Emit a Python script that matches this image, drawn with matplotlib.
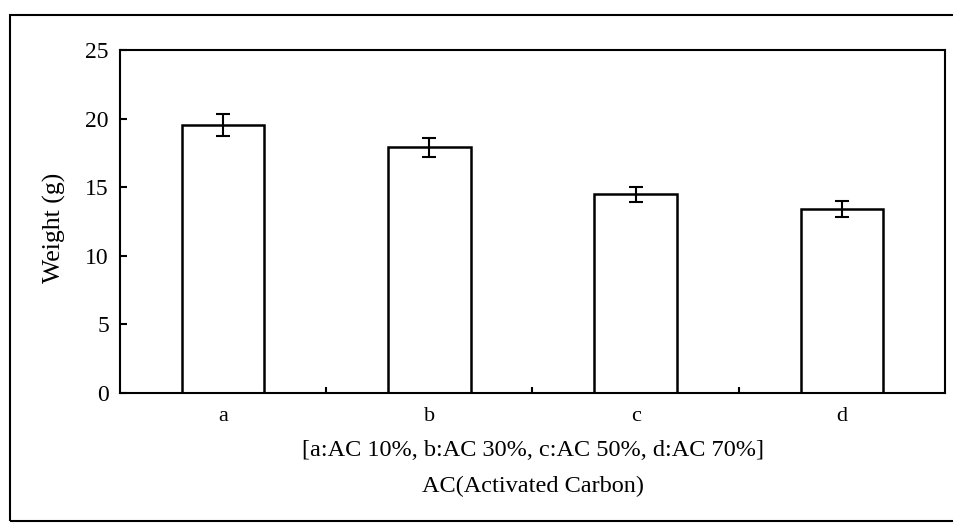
import matplotlib
matplotlib.use('Agg')
import matplotlib.pyplot as plt
from matplotlib.patches import Rectangle

plt.rcParams['font.family'] = ['Liberation Serif', 'DejaVu Serif']

categories = ['a', 'b', 'c', 'd']
weight = [19.5, 17.9, 14.5, 13.4]
weight_err = [0.8, 0.7, 0.55, 0.6]
y_ticks = [0, 5, 10, 15, 20, 25]
x_note = '[a:AC 10%, b:AC 30%, c:AC 50%, d:AC 70%]'
x_title = 'AC(Activated Carbon)'

W, H = 954, 527
fig = plt.figure(figsize=(W / 100, H / 100), dpi=100)
# axes box in pixels: left 120, right 945, top 50, bottom 393
ax = fig.add_axes([120 / W, 1 - 393 / H, (945 - 120) / W, (393 - 50) / H])

x = list(range(len(categories)))
ax.bar(x, weight, width=0.4, color='white', edgecolor='black', linewidth=1.8,
       yerr=weight_err, capsize=5,
       error_kw=dict(elinewidth=1.5, capthick=1.5, ecolor='black'))

ax.set_xlim(-0.5, 3.5)
ax.set_ylim(0, 25)
ax.set_yticks(y_ticks)
ax.set_xticks(x)
ax.set_xticklabels(categories)
ax.set_xticks([0.5, 1.5, 2.5], minor=True)
ax.tick_params(axis='x', which='major', length=0, pad=10, labelsize=16)
ax.tick_params(axis='x', which='minor', direction='in', length=4, width=1.5)
ax.tick_params(axis='y', direction='in', length=5, width=1.5, pad=8, labelsize=17)
for s in ax.spines.values():
    s.set_linewidth(1.5)

xc = (120 + 945) / 2 / W
fig.text(xc, 1 - 451 / H, x_note, ha='center', va='center', fontsize=17.5)
fig.text(xc, 1 - 486 / H, x_title, ha='center', va='center', fontsize=17.5)
fig.text(54 / W, 1 - 228 / H, 'Weight (g)', rotation=90, ha='center', va='center', fontsize=18.5)

# outer frame of the scanned figure (right edge runs off the page)
fig.add_artist(Rectangle((10 / W, 1 - 521 / H), 1.0, (521 - 15) / H,
                         transform=fig.transFigure, fill=False, lw=1.5, clip_on=False))

fig.savefig('out.png', dpi=100)
